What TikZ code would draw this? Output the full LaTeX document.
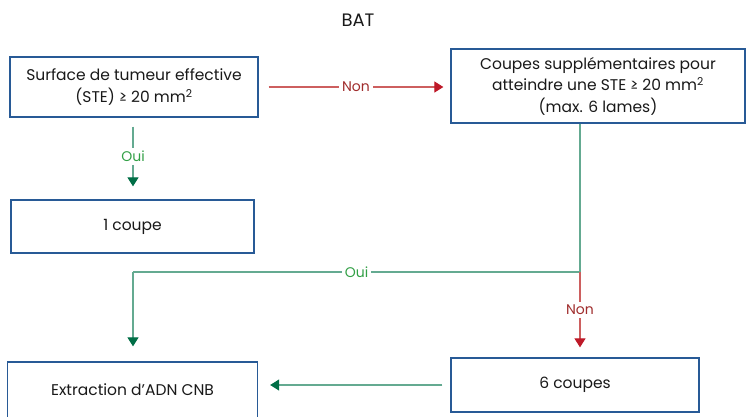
\documentclass[tikz,border=0pt]{standalone}
\usepackage{fontspec}
\setmainfont{Poppins}
\usetikzlibrary{arrows.meta}
\definecolor{boxblue}{RGB}{40,90,150}
\definecolor{rline}{RGB}{205,95,95}
\definecolor{rhead}{RGB}{190,25,40}
\definecolor{rtext}{RGB}{160,45,45}
\definecolor{gline}{RGB}{100,170,145}
\definecolor{ghead}{RGB}{0,110,70}
\definecolor{gtext}{RGB}{50,160,70}
\definecolor{txt}{RGB}{25,25,25}
\tikzset{
  box/.style={draw=boxblue, line width=1.3pt, fill=white, text=txt, align=center, inner sep=2pt, font=\fontsize{15.5}{21.5}\selectfont},
  lbl/.style={fill=white, inner sep=3pt, font=\fontsize{14}{16}\selectfont},
  redline/.style={draw=rline, line width=1.2pt},
  redarrow/.style={redline, -{Triangle[length=9pt,width=11pt,color=rhead]}},
  grnline/.style={draw=gline, line width=1.2pt},
  grnarrow/.style={grnline, -{Triangle[length=9pt,width=11pt,color=ghead]}},
}
\begin{document}
\begin{tikzpicture}[x=1pt,y=-1pt]
\useasboundingbox (0,0) rectangle (746,416);
\node[font=\fontsize{18}{20}\selectfont, text=txt] (bat) at (358,20) {BAT};
\node[box, minimum width=248pt, minimum height=60pt] (b1) at (134,87) {Surface de tumeur effective\\(STE) ≥ 20 mm\textsuperscript{2}};
\node[box, minimum width=294pt, minimum height=74pt] (b2) at (598,86) {Coupes supplémentaires pour\\atteindre une STE ≥ 20 mm\textsuperscript{2}\\(max. 6 lames)};
\node[box, minimum width=243pt, minimum height=53pt] (b3) at (132.5,226.5) {1 coupe};
\node[box, minimum width=250pt, minimum height=56pt] (b5) at (132.5,390) {Extraction d’ADN CNB};
\node[box, minimum width=248pt, minimum height=54pt] (b6) at (575,385) {6 coupes};
\coordinate (j) at (580,272);
\coordinate (jl) at (133,272);
\draw[redarrow] ([xshift=10pt]b1.east) -- node[lbl, text=rtext]{Non} ([xshift=-7pt]b2.west |- b1.east);
\draw[grnarrow] ([yshift=-9pt]b1.south -| jl) -- node[lbl, text=gtext]{Oui} ([yshift=13pt]b3.north -| jl);
\draw[grnline] (b2.south -| j) -- (j);
\draw[grnline] (j) -- node[lbl, text=gtext]{Oui} (jl);
\draw[grnarrow] (jl) -- ([yshift=15pt]b5.north -| jl);
\draw[redarrow] (j) -- node[lbl, text=rtext]{Non} ([yshift=10pt]b6.north -| j);
\draw[grnarrow] ([xshift=-8pt]b6.west) -- ([xshift=12pt]b5.east |- b6.west);
\end{tikzpicture}
\end{document}
